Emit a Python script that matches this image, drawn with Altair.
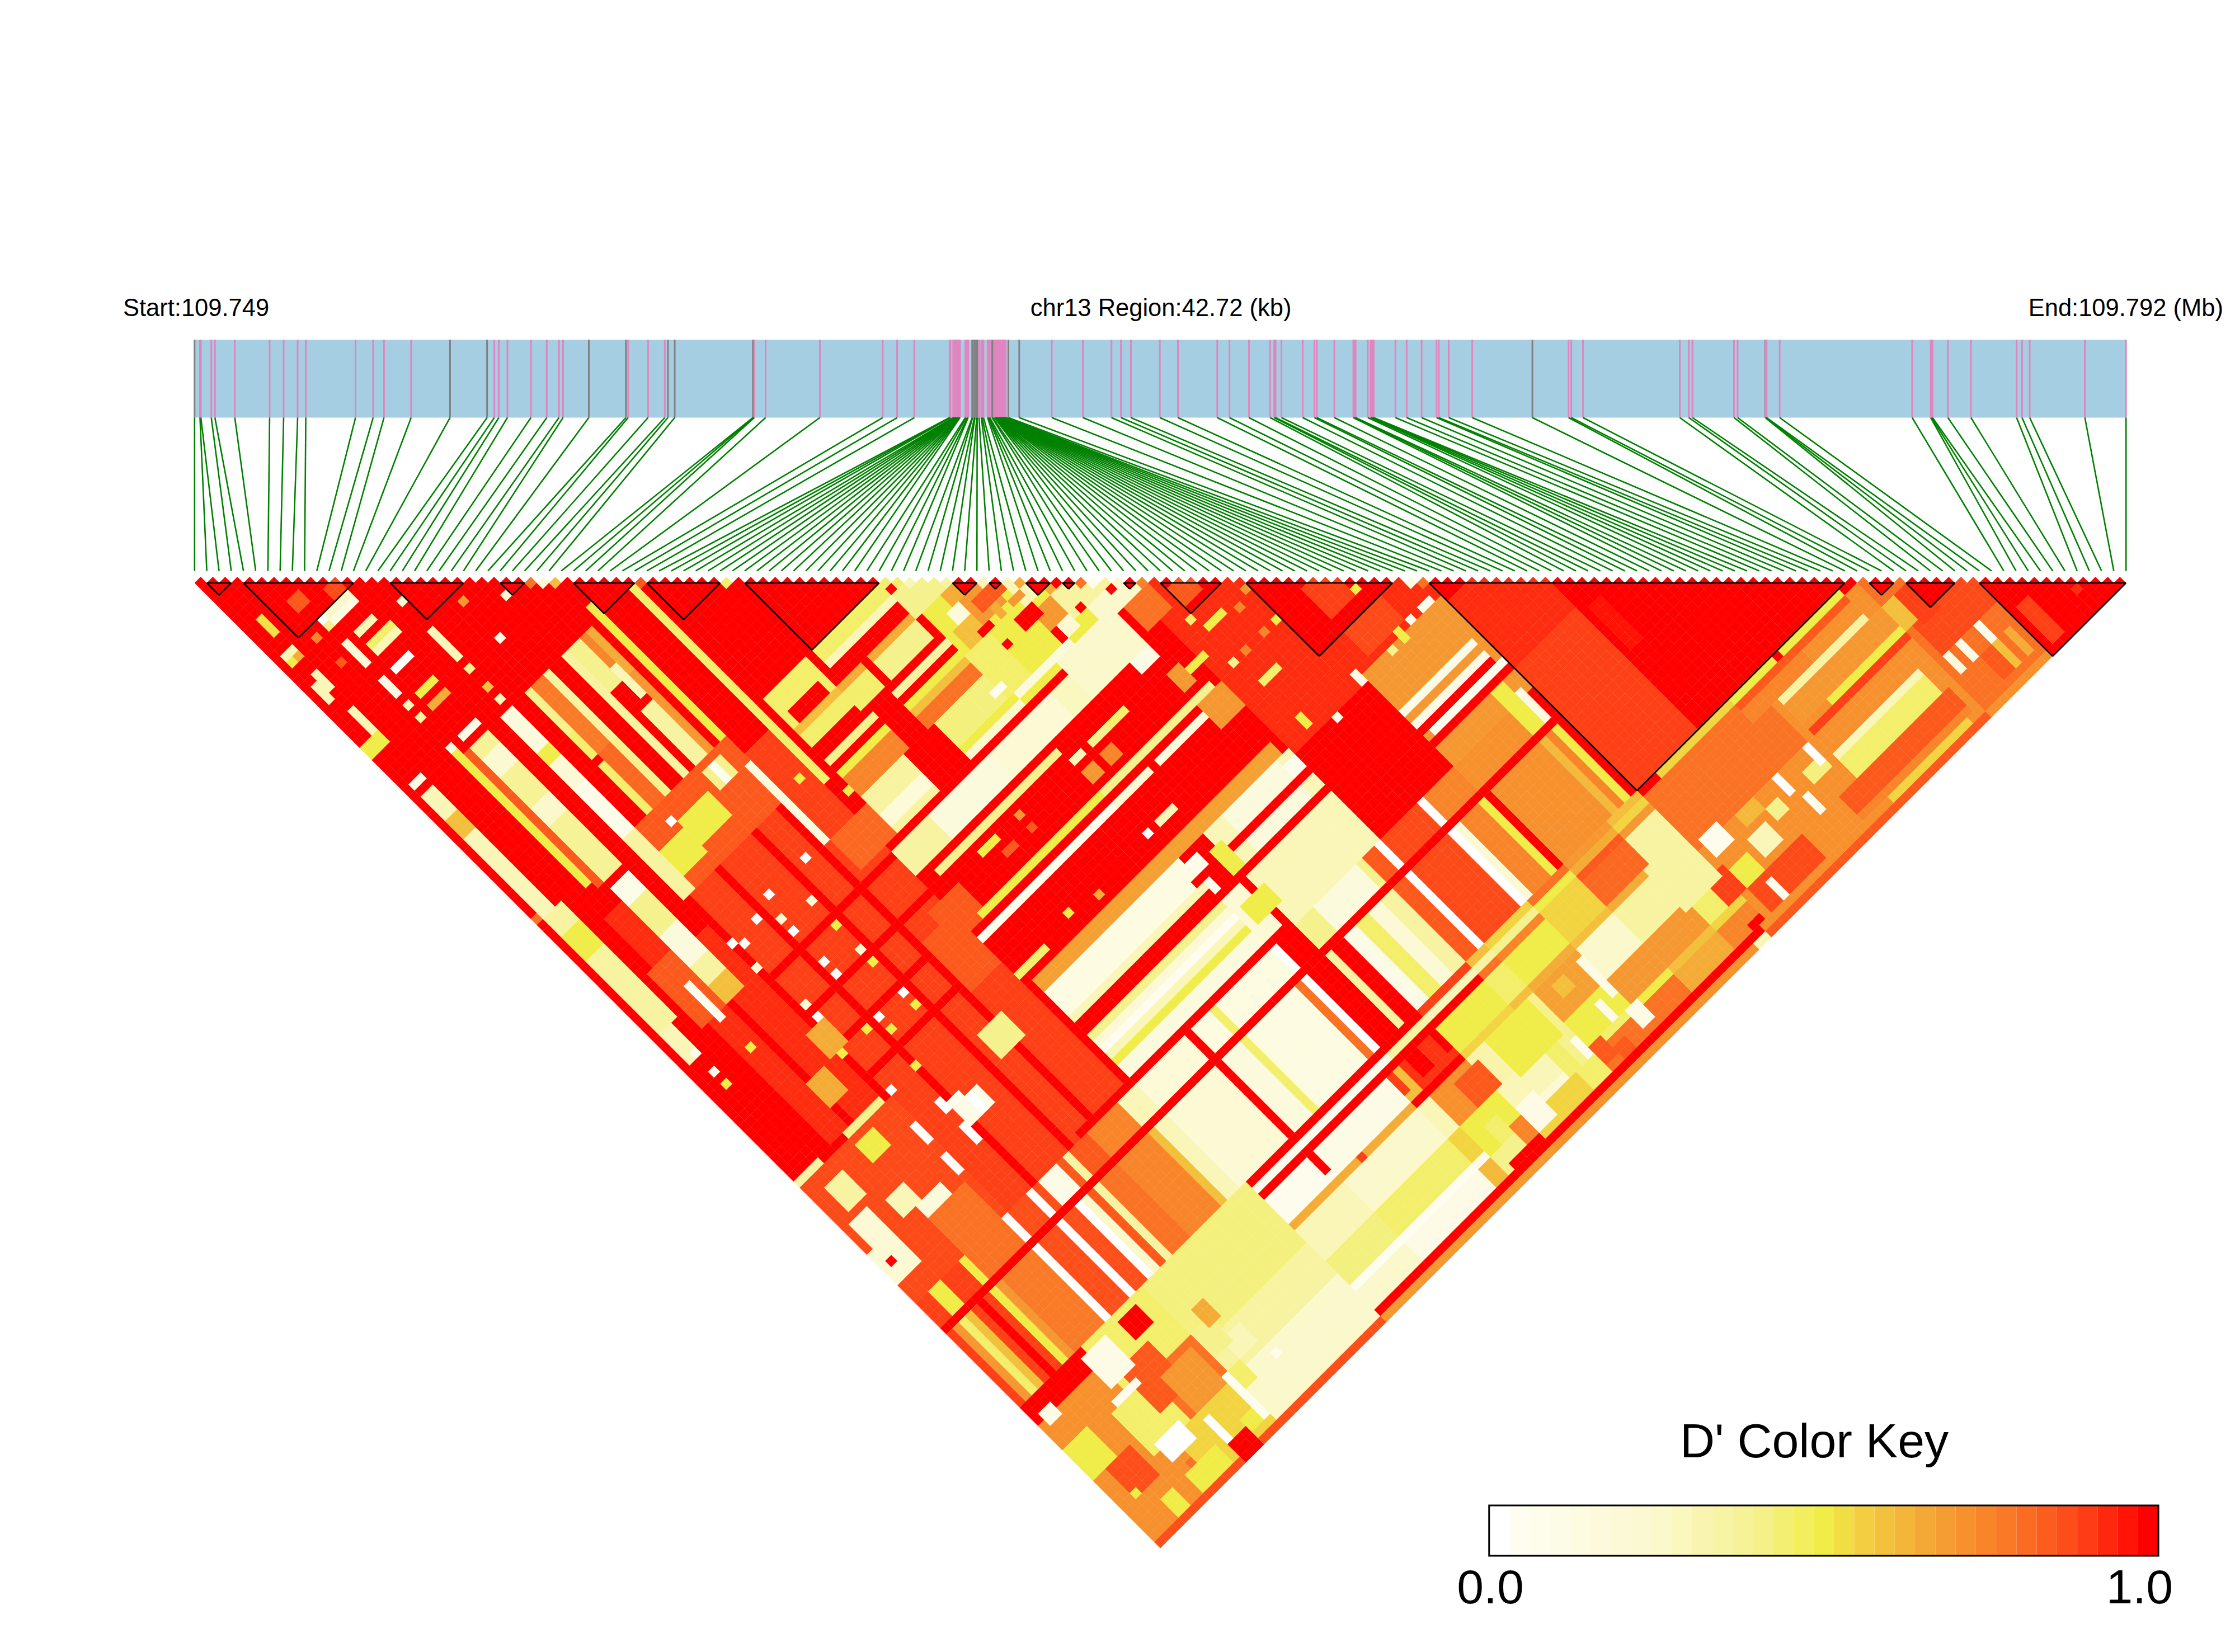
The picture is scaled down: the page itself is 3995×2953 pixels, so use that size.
import altair as alt
import numpy as np
import pandas as pd

alt.data_transformers.disable_max_rows()

# SNP positions along the 42.72 kb region
snp_kb = [0.00,0.12,0.14,0.37,0.45,0.89,1.66,1.97,2.28,2.46,3.56,3.95,4.19,4.79,5.65,6.47,6.63,6.73,6.92,7.44,
7.79,8.06,8.15,8.72,9.54,9.59,10.03,10.40,10.47,10.62,12.35,12.36,12.38,12.63,13.83,15.22,15.54,15.92,
16.70,16.71,16.72,16.78,16.79,16.80,16.82,16.83,16.84,16.85,16.86,16.87,16.89,16.90,16.91,16.92,16.93,
17.05,17.07,17.10,17.11,17.20,17.21,17.25,17.26,17.30,17.31,17.35,17.40,17.42,17.45,17.54,17.56,17.57,17.59,
17.64,17.65,17.69,17.70,17.71,17.72,17.73,17.74,17.75,17.77,17.78,17.79,17.80,17.81,17.82,17.83,17.84,17.85,
17.86,17.87,17.88,17.89,17.90,17.91,17.92,17.93,17.94,18.00,18.24,18.96,19.65,20.28,20.49,20.71,21.35,21.75,
22.62,22.89,23.32,23.79,23.88,23.91,24.04,24.51,24.77,24.82,25.21,25.63,25.66,25.68,25.95,26.01,26.03,26.06,
26.08,26.56,26.81,27.14,27.47,27.52,27.74,28.26,29.59,30.39,30.45,30.71,32.85,33.05,33.13,34.05,34.13,34.74,
34.75,34.77,35.06,37.99,38.40,38.42,38.44,38.78,39.29,40.30,40.42,40.59,41.81,42.72]
grey_snps = [0,14,15,23,24,28,29,30,31,59,60,61,62,63,64,73,74,100,101,135,144]
ld_blocks = [(1,3),(4,13),(16,22),(25,27),(31,36),(37,43),(45,56),(62,64),(65,66),(68,70),(71,72),(76,77),
             (79,84),(86,98),(101,135),(137,139),(140,144),(146,158)]

# adjacent-SNP row
first_row = {27:.8,28:.2,29:.6,36:.85,43:.45,56:.45,57:.45,58:.3,61:.35,64:.3,66:.3,67:.65,72:.8,73:.05,77:.75,81:.85,99:.15,100:.8}

# broad areas, painted first: (i0, i1, j0, j1, D')
broad_areas = [
 (15,34,60,118,.9),(5,13,62,98,.93),(0,14,100,118,.88),
 (0,9,139,158,.72),(10,19,136,143,.45),(10,19,144,150,.8),(10,19,151,158,.55),(20,36,136,145,.42),(20,36,146,150,.35),(20,36,151,158,.25),(0,36,158,158,.87),
 (57,78,58,78,.5),(76,100,78,104,.93),(88,100,104,118,.7),(101,110,116,135,.9),(101,110,105,115,.93),(134,158,137,158,.8),
 (100,135,137,158,.72),(100,118,137,145,.8),(36,60,111,118,.2),(62,75,104,118,.3),
 (15,34,80,80,1),(15,34,86,86,1),(15,34,91,91,1),(15,34,96,96,1),(19,19,62,118,1),(25,25,62,118,1),(29,29,62,118,1),
 (5,5,62,98,1),(9,9,62,98,1),(12,13,60,70,1),
]

# whole-column readings: (j0, j1, [(i0, i1, D'), ...])
column_groups = [
 (119,122,[(0,1,.9),(2,3,.5),(4,6,.9),(7,7,.5),(8,13,.8),(14,14,0),(15,17,.87),(18,18,0),(19,19,.87),(20,22,.1),(23,23,.85),
  (24,24,.35),(25,27,.85),(28,32,.75),(33,35,.3),(36,43,.18),(44,44,1),(45,47,.13),(48,48,.45),(49,57,.13),(58,58,0),(59,61,1),
  (62,64,.4),(65,71,.15),(72,72,.4),(73,74,.85),(75,75,0),(76,81,.88),(82,82,0),(83,87,.75),(88,96,.72),(97,98,.5),(99,99,.15),(100,100,1)]),
 (124,135,[(0,0,.9),(1,1,.7),(2,2,.45),(3,3,.6),(4,4,.9),(5,5,1),(6,6,.9),(7,7,.5),(8,8,.7),(9,13,.78),(14,14,0),(15,17,.87),(18,18,0),
  (19,20,.87),(21,21,0),(22,22,.25),(23,23,.85),(24,24,.35),(25,27,.8),(28,32,.75),(33,33,.6),(34,35,.3),(36,43,.2),(44,44,1),(45,47,.15),
  (48,48,.45),(49,56,.13),(57,57,.8),(58,58,0),(59,61,1),(62,62,.35),(63,64,1),(65,66,.1),(67,68,.45),(69,70,.2),(71,72,.35),(73,74,.85),
  (75,75,0),(76,81,.88),(82,82,0),(83,83,.2),(84,86,.75),(87,87,.5),(88,88,1),(89,96,.72),(97,97,.62),(98,98,.75),(99,99,.5),(100,100,1)]),
]

# colour table for the lower right: SNP bands against column bands
i_bands = [(37,44),(45,56),(57,58),(59,64),(65,72),(73,75),(76,82),(83,88),(89,95),(96,100)]
j_bands = [(136,136),(137,137),(138,138),(139,142),(143,143),(144,148),(149,152),(153,153),(154,156)]
band_table = [
 [1,1,1,1,.9,.6,.55,.8,.7,.6],
 [.05,.05,.05,.35,.3,.35,.4,.5,.65,.55],
 [1,1,1,1,1,.8,.75,.55,.85,.7],
 [.05,.1,.6,.92,.5,.45,.5,.55,.82,.35],
 [.65,.65,.65,.7,.55,.6,.65,.6,.65,.6],
 [.3,.25,.3,.72,.33,.4,.68,.25,.35,.35],
 [.42,.45,.55,.5,.3,.4,.5,.7,.7,.45],
 [.03,.03,.1,.5,.2,.4,.45,.5,.6,.55],
 [.25,.1,.62,.4,.55,.45,.8,.8,.65,.75],
]

# rectangles in (first SNP, second SNP) space: (i0, i1, j0, j1, D')
patches = [
 # left part
 (2,2,9,11,.52),(1,2,14,14,.3),(1,1,15,15,.5),(2,2,15,15,.65),(8,11,14,14,.25),(8,11,15,15,.13),(7,7,14,14,0),(7,7,15,15,.4),
 (9,11,18,18,.3),(9,12,20,20,.45),(9,12,21,21,.3),(15,15,19,19,.2),(20,20,24,24,.7),(9,11,24,24,0),(15,15,24,28,.3),(7,7,18,21,.2),
 (5,5,15,15,.75),(5,5,19,19,.85),(2,2,18,20,.3),(1,1,19,21,.3),(7,7,24,26,.1),(9,11,28,28,.5),(9,11,30,30,.65),(7,7,28,28,.3),(7,7,30,30,.35),
 (15,15,30,30,.4),(15,15,33,33,.6),(15,15,35,35,.3),(20,20,30,30,.1),(24,24,27,27,.2),(9,11,35,35,.1),(7,7,35,35,.1),(1,2,35,35,.1),
 (2,2,24,28,.3),(0,2,28,29,.5),(1,2,37,57,.3),(1,2,41,43,.6),(0,0,56,56,.8),(1,3,57,75,.35),(1,3,60,63,.5),(1,2,76,80,.3),(2,2,80,80,.05),(2,2,83,83,.05),(2,2,85,85,.5),
 (7,7,36,57,.5),(9,11,37,58,.38),(9,11,39,41,.22),(9,11,47,49,.25),(9,11,60,62,.08),(9,11,63,67,.4),(9,11,68,72,.15),(9,11,73,75,.35),(9,11,76,78,.6),
 (8,8,37,58,.85),
 (14,15,37,42,.15),(14,15,43,44,.5),(14,15,45,48,.2),(14,15,49,56,.08),(14,15,57,66,.35),
 (18,18,37,43,.4),(18,18,44,47,.45),(18,18,49,56,.45),(19,20,37,47,.78),(21,21,37,47,.35),(19,20,48,56,.82),(21,21,48,56,.4),
 (24,24,37,47,.35),(24,24,48,58,.35),(25,26,37,43,.4),(27,27,37,43,.75),(28,28,37,43,.65),(26,27,48,56,.35),(28,28,44,56,.7),(27,27,42,46,.3),
 (30,30,35,57,.5),(35,35,37,68,.45),
 (16,30,57,66,.85),(20,24,60,63,.5),(26,28,58,60,.4),(16,19,61,64,.5),(27,27,58,59,.05),(27,27,60,60,.05),(19,19,59,59,0),(30,30,61,73,.15),
 (5,8,70,78,.85),(7,7,74,79,.05),
 # single spots in the mottled area
 (35,35,74,74,0),(27,27,73,73,0),(21,21,73,73,0),(18,18,74,74,0),(20,20,78,78,0),(20,20,83,83,0),(20,20,85,85,0),(24,24,85,85,.2),(24,24,87,87,.5),
 (24,24,92,92,0),(24,24,94,94,.5),(15,15,85,85,.2),(15,15,87,87,0),(20,20,92,92,0),(20,20,94,94,.5),(18,18,92,92,.5),(14,14,92,92,.5),(19,19,99,99,.5),
 (15,15,99,99,0),(7,7,84,84,.5),(24,24,81,81,.5),(24,24,77,77,.2),(20,20,76,76,.2),(14,14,78,78,.2),(36,36,71,71,.5),(33,33,66,66,.5),(14,14,74,74,0),(15,15,75,75,0),
 (31,36,74,78,.82),(33,37,88,92,.85),(30,34,90,97,.85),(13,15,88,91,.65),(9,11,92,95,.65),(8,13,99,99,.4),(0,3,99,99,.35),(19,22,106,108,.1),(18,20,105,105,.05),(27,30,102,105,.4),
 (8,10,101,103,.5),(14,14,104,106,0),(14,14,109,111,0),(18,18,104,105,0),(18,18,108,110,0),(21,21,106,108,0),(0,3,111,115,.2),(1,1,113,113,1),(1,3,107,110,.2),(2,4,102,105,.35),
 (6,8,108,110,.3),(8,11,111,115,.15),(8,13,113,118,.8),
 # groups of SNPs around the middle
 (45,55,57,59,.45),(45,55,59,59,.3),(37,43,57,59,.45),(38,42,60,61,1),(37,43,62,62,.6),(37,43,63,64,.45),(37,37,60,61,.45),(43,43,60,61,.45),
 (49,56,62,62,.65),(49,55,63,65,.4),(44,47,62,62,.65),(44,47,63,65,.45),
 (48,56,67,67,.35),(48,56,69,69,.5),(48,56,70,70,.6),(48,56,71,72,.8),(49,57,73,76,.42),(49,57,77,77,.5),(49,57,78,78,.25),(37,44,67,67,.4),(37,44,69,69,.5),(37,44,70,72,.75),
 (37,43,73,78,.35),(37,43,76,77,.18),
 (35,40,80,83,.35),(41,50,80,83,.15),(51,60,80,83,.2),(61,66,80,83,.28),(37,56,85,85,.4),(37,56,92,92,.5),(35,56,94,94,.05),(57,74,92,92,.4),(57,62,94,94,.2),(64,72,94,94,.15),
 (57,57,99,99,0),(59,61,99,99,.3),(60,61,89,90,.75),(57,58,89,90,.7),(57,58,87,87,.3),(60,62,87,87,.4),(63,65,87,87,.45),
 (70,72,84,85,.1),(78,78,85,85,.45),(79,81,87,87,.5),(74,76,89,89,.5),(78,78,92,92,.4),(79,81,96,96,.45),(72,73,88,90,.7),(74,77,78,82,.8),(72,75,93,96,.7),
 (83,83,92,92,.75),(80,80,92,92,.75),(85,85,92,92,.5),(87,87,94,94,.5),(83,83,88,88,.75),(85,85,87,87,.7),(73,75,105,106,.05),(36,74,102,103,.68),
 (36,57,104,107,.12),(36,57,108,108,.3),(36,57,109,110,1),(36,57,111,111,.4),(36,57,112,112,.2),(36,57,113,113,.05),(36,57,114,114,.3),(36,57,115,115,.5),(36,57,116,117,.15),
 (27,60,118,118,1),(65,73,104,110,.15),(57,75,107,107,1),(57,75,110,110,1),(58,59,105,106,.05),(58,58,108,109,.05),(61,62,106,109,.5),(59,62,113,115,.5),(35,39,100,100,.45),(44,44,99,99,.5),(42,44,87,87,.5),
 (48,48,87,87,.7),(48,48,89,89,.85),(44,45,89,89,.85),(48,48,100,100,.65),
 # mosaic near the SNP cluster
 (61,64,65,68,.7),(58,60,67,69,.6),(66,70,72,74,.7),(69,74,72,75,.35),(71,76,76,78,.25),(60,62,62,64,.65),(62,66,66,67,.85),(66,68,68,70,.3),(69,71,70,71,.65),
 (60,61,72,72,1),(60,61,69,69,1),(64,66,71,72,1),(66,67,75,76,1),(70,70,75,75,1),(70,71,71,71,1),(74,74,76,76,1),(63,63,68,69,.65),(65,66,69,69,.7),
 (59,60,65,66,.15),(56,60,59,62,.4),(57,58,63,65,.5),(57,60,70,76,.45),(58,66,77,77,.15),(56,57,75,75,.05),(68,68,78,78,.05),(67,68,75,76,.2),(64,72,78,83,.25),
 # upper right of the centre
 (97,98,116,122,.5),(99,99,118,118,.1),(88,99,110,110,.1),(88,99,111,111,.7),(88,99,112,112,.1),(88,99,113,113,1),(89,100,114,114,.05),(88,100,115,115,1),
 (98,99,103,103,.05),(96,96,103,103,.05),(94,94,103,104,.5),(92,92,104,104,.4),(87,87,103,104,.1),(82,82,105,105,.1),(79,79,102,103,.5),(90,95,99,102,.88),
 # lower right: stripes and spots over the band table
 (44,44,139,141,1),(48,48,143,143,.9),(57,57,139,141,.9),(60,61,139,141,1),(64,64,139,141,1),(57,64,143,143,1),(37,59,157,157,1),(37,59,158,158,.7),(60,64,156,157,1),(60,64,158,158,.7),
 (62,65,145,148,.85),(60,60,145,148,.72),(68,74,144,149,.5),(65,67,152,155,.1),(61,62,151,153,.45),(63,64,153,155,.75),(72,73,150,153,.45),(75,75,151,153,.05),(76,77,153,155,.85),
 (78,79,155,156,.85),(78,79,145,146,.6),(80,80,150,152,.1),(82,82,145,150,.1),(82,83,153,155,.1),(102,104,145,147,.05),(102,104,150,153,.5),(99,101,149,152,.9),(95,100,143,149,.35),
 (65,158,158,158,.72),(7,12,144,150,.45),(8,11,150,152,0),(14,14,152,156,0),(19,19,150,156,.05),(11,15,141,147,.85),(14,18,145,150,.7),(20,21,150,152,.45),(25,25,152,152,.05),(22,24,147,149,.3),(20,22,144,147,.4),
 (9,12,137,141,.1),(8,11,143,143,.05),(2,5,148,152,.87),(0,3,143,147,.5),(1,2,138,139,.1),(2,2,152,152,.5),(4,5,155,157,.5),(8,12,155,157,.5),(9,9,154,154,.8),(14,16,156,158,1),(17,18,155,156,.5),
 (15,17,137,139,1),(22,23,142,144,.65),
 (102,110,153,156,.88),(106,108,149,151,.3),(107,109,146,147,.62),(110,111,148,149,.4),(116,118,148,149,.42),(113,113,146,148,0),(118,118,146,148,0),(114,114,150,152,.05),(118,118,154,156,.02),(104,104,154,156,.05),(99,100,156,156,1),(98,99,158,158,.3),
 (104,115,136,136,.55),(116,122,136,136,.5),(124,133,136,136,.5),(116,133,137,137,.85),(120,133,140,140,.35),(120,135,141,143,.7),(124,135,144,144,.5),(120,135,145,145,.9),(119,133,146,148,.72),
 (120,133,149,149,.3),(120,133,150,152,.45),(117,134,153,155,.85),(117,134,156,156,.75),(121,133,157,157,.55),(100,135,158,158,.85),(116,125,138,139,.75),
 (142,142,150,152,.05),(139,139,150,152,.1),(137,137,150,152,.15),(144,144,153,156,.65),(142,142,153,156,.6),(140,141,153,156,.85),
 (137,145,145,149,.88),(136,138,141,144,.6),(138,140,141,145,.9),
 (112,113,117,123,.97),
]
# small lighter spots read inside the black triangles
block_spots = [(6,7,10,11,.85),(10,11,12,13,.88),(90,93,92,96,.9),(94,94,96,96,.5),(147,148,152,154,.9),(147,148,155,157,.9),(153,153,155,155,.93),(79,81,81,83,.85)]

# colour key: 33 swatches between 0.0 and 1.0
key_levels = [k / 32 for k in range(33)]
colour_domain = [0, .03, .25, .4, .5, .56, .68, .8, .9, 1]
colour_range = ["#ffffff", "#fefdf0", "#fbf8cc", "#f5f18c", "#f0ec48", "#f2cf40", "#f5a033", "#fa7224", "#fe4016", "#ff0000"]

N = len(snp_kb)
M = np.ones((N, N))
for a, b, c, d, v in broad_areas:
    M[a:b + 1, c:d + 1] = v
for j0, j1, parts in column_groups:
    for a, b, v in parts:
        M[a:b + 1, j0:j1 + 1] = v
for (a, b), row in zip(j_bands, band_table):
    for (p, q), v in zip(i_bands, row):
        M[p:q + 1, a:b + 1] = v
for a, b, c, d, v in patches:
    M[a:b + 1, c:d + 1] = v
for i, v in first_row.items():
    M[i, i + 1] = v
for a, b in ld_blocks:
    if b - a <= 12:
        M[a:b + 1, a:b + 1] = 1.0
for a, b, c, d, v in block_spots:
    M[a:b + 1, c:d + 1] = v

cells = pd.DataFrame([{"s": i + j, "d": j - i, "v": round(float(M[i, j]), 3)}
                      for i in range(N) for j in range(i + 1, N)])

SPAN = 316 / 42.72
bar_top, bar_bot, link_end = -38.8, -26.06, -0.97
tops = [kb * SPAN for kb in snp_kb]
snps = pd.DataFrame({"x": tops, "y": bar_top, "y2": bar_bot,
                     "kind": ["grey" if i in grey_snps else "pink" for i in range(N)]})
links = pd.DataFrame({"x": tops, "y": bar_bot, "x2": [2.0 * i for i in range(N)], "y2": link_end})
tri = []
for a, b in ld_blocks:
    tri += [dict(x=2 * a, y=1, x2=2 * b, y2=1), dict(x=2 * a, y=1, x2=a + b, y2=b - a + 1), dict(x=2 * b, y=1, x2=a + b, y2=b - a + 1)]
tri = pd.DataFrame(tri)
kL, kR, kT, kB = 211.8, 321.3, 152.0, 160.25
w = (kR - kL) / 33
swatches = pd.DataFrame({"x": [kL + k * w for k in range(33)], "x2": [kL + (k + 1) * w for k in range(33)],
                         "y": kT, "y2": kB, "v": key_levels})

W, H = 3979, 2937
xs = alt.Scale(domain=[-31.1, 333.1], range=[0, W])
ys = alt.Scale(domain=[-93.69, 175.27], range=[0, H])
X = lambda f: alt.X(f, type="quantitative", scale=xs, axis=None)
Y = lambda f: alt.Y(f, type="quantitative", scale=ys, axis=None)
col = alt.Color("v:Q", scale=alt.Scale(domain=colour_domain, range=colour_range, interpolate="rgb"), legend=None)

bar = alt.Chart(pd.DataFrame({"x": [-0.1], "x2": [316.0], "y": [bar_top], "y2": [bar_bot]})).mark_rect(color="#A6CEE3").encode(
    x=X("x"), x2="x2", y=Y("y"), y2="y2")
lines = alt.Chart(snps).mark_rule(strokeWidth=3).encode(
    x=X("x"), y=Y("y"), y2="y2",
    color=alt.Color("kind:N", scale=alt.Scale(domain=["grey", "pink"], range=["#808080", "#E085BE"]), legend=None))
green = alt.Chart(links).mark_rule(strokeWidth=2.6, color="#008000").encode(x=X("x"), x2="x2", y=Y("y"), y2="y2")
heat = alt.Chart(cells).mark_point(shape="diamond", filled=True, size=490, opacity=1, strokeWidth=0).encode(
    x=X("s"), y=Y("d"), color=col)
tris = alt.Chart(tri).mark_rule(strokeWidth=2.7, color="black").encode(x=X("x"), x2="x2", y=Y("y"), y2="y2")
key = alt.Chart(swatches).mark_rect(strokeWidth=0).encode(x=X("x"), x2="x2", y=Y("y"), y2="y2", color=col)
frame = alt.Chart(pd.DataFrame({"x": [kL], "x2": [kR], "y": [kT], "y2": [kB]})).mark_rect(
    fillOpacity=0, stroke="black", strokeWidth=3).encode(x=X("x"), x2="x2", y=Y("y"), y2="y2")

def label(txt, x, y, size, align):
    return alt.Chart(pd.DataFrame({"x": [x], "y": [y], "t": [txt]})).mark_text(
        font="Liberation Sans", fontSize=size, align=align, baseline="alphabetic", color="black").encode(
        x=X("x"), y=Y("y"), text="t:N")

chart = alt.layer(
    bar, lines, green, heat, tris, key, frame,
    label("Start:109.749", -11.7, -42.7, 43.5, "left"),
    label("chr13 Region:42.72 (kb)", 158.1, -42.7, 43.5, "center"),
    label("End:109.792 (Mb)", 331.9, -42.7, 43.5, "right"),
    label("D' Color Key", 265.0, 144.1, 86, "center"),
    label("0.0", 212.0, 168.0, 86, "center"),
    label("1.0", 318.2, 168.0, 86, "center"),
).resolve_scale(color="independent").properties(width=W, height=H, padding=0, autosize=alt.AutoSizeParams(type="none")
).configure_view(stroke=None)

chart.save("out.html", embed_options={"renderer": "svg", "actions": False})
